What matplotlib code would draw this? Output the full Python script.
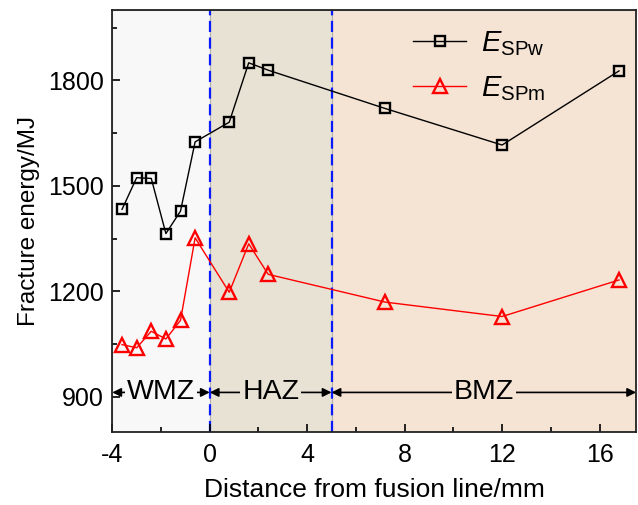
import matplotlib
matplotlib.use("Agg")
import matplotlib.pyplot as plt

plt.rcParams['font.family'] = ['Liberation Sans', 'DejaVu Sans']
plt.rcParams['mathtext.fontset'] = 'custom'
plt.rcParams['mathtext.rm'] = 'Liberation Sans'
plt.rcParams['mathtext.it'] = 'Liberation Sans:italic'
plt.rcParams['axes.unicode_minus'] = False

distance = [-3.6, -3.0, -2.4, -1.8, -1.2, -0.6, 0.8, 1.6, 2.4, 7.2, 12.0, 16.8]
e_spw = [1433, 1523, 1521, 1364, 1428, 1625, 1681, 1850, 1829, 1720, 1616, 1827]
e_spm = [1048, 1039, 1086, 1064, 1117, 1352, 1197, 1335, 1248, 1169, 1128, 1232]

zones = ["WMZ", "HAZ", "BMZ"]
zone_bounds = [(-4, 0), (0, 5), (5, 17.5)]
zone_colors = ["#f8f8f8", "#e8e2d5", "#f5e3d3"]
zone_label_y = 912

x_ticks = [-4, 0, 4, 8, 12, 16]
y_ticks = [900, 1200, 1500, 1800]

fig = plt.figure(figsize=(6.38, 5.05), dpi=100)
ax = fig.add_axes([0.176, 0.145, 0.821, 0.835])

for (a, b), c in zip(zone_bounds, zone_colors):
    ax.axvspan(a, b, facecolor=c, edgecolor='#b0b0b0', linewidth=0.8, zorder=0)

for xb in [0, 5]:
    ax.axvline(xb, color='#0a1aff', linestyle=(0, (5, 2.5)), linewidth=1.6, zorder=1)

ax.plot(distance, e_spw, color='black', linewidth=1.0, marker='s', markersize=7.8,
        markerfacecolor='none', markeredgecolor='black', markeredgewidth=1.7,
        label=r'$\mathit{E}_{\mathrm{SPw}}$', zorder=3)
ax.plot(distance, e_spm, color='red', linewidth=1.0, marker='^', markersize=10,
        markerfacecolor='none', markeredgecolor='red', markeredgewidth=1.7,
        label=r'$\mathit{E}_{\mathrm{SPm}}$', zorder=3)

for name, (a, b), c in zip(zones, zone_bounds, zone_colors):
    ax.annotate('', xy=(a, zone_label_y), xytext=(b, zone_label_y),
                arrowprops=dict(arrowstyle='<|-|>', color='black', lw=1.2,
                                mutation_scale=13, shrinkA=0, shrinkB=0), zorder=4)
    ax.text((a + b) / 2, zone_label_y, name, ha='center', va='center', fontsize=20.5,
            zorder=5, bbox=dict(facecolor=c, edgecolor='none', pad=1.5))

ax.set_xlim(-4, 17.5)
ax.set_ylim(800, 2000)
ax.set_xticks(x_ticks)
ax.set_yticks(y_ticks)
ax.set_xticks([-2, 2, 6, 10, 14], minor=True)
ax.set_yticks([1050, 1350, 1650, 1950], minor=True)
ax.tick_params(axis='both', which='both', direction='in', labelsize=18,
               top=False, right=False)
ax.tick_params(which='major', length=6, width=1.2)
ax.tick_params(which='minor', length=3.5, width=1.2)
ax.tick_params(axis='x', pad=8)
ax.tick_params(axis='y', pad=6)
for s in ax.spines.values():
    s.set_linewidth(1.3)
    s.set_color('#222222')

ax.set_xlabel('Distance from fusion line/mm', fontsize=19, labelpad=8)
ax.set_ylabel('Fracture energy/MJ', fontsize=17.5, labelpad=6)

leg = ax.legend(loc='upper left', bbox_to_anchor=(0.575, 0.955), frameon=False,
                fontsize=21, handlelength=1.8, handletextpad=0.5, labelspacing=0.57,
                borderpad=0, borderaxespad=0)

fig.savefig('out.png', dpi=100)
